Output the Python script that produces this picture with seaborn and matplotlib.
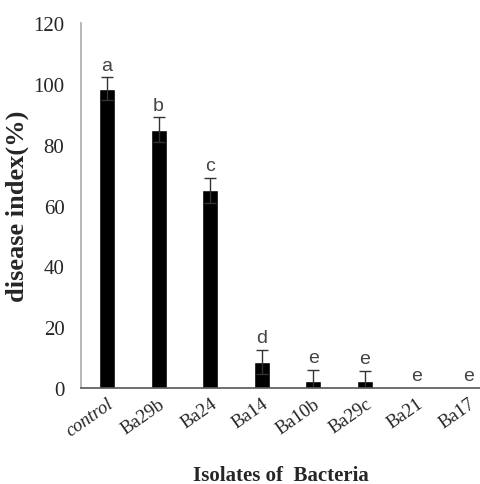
import matplotlib
matplotlib.use("Agg")
import matplotlib.pyplot as plt
import seaborn as sns
import pandas as pd
import numpy as np

categories = ["control", "Ba29b", "Ba24", "Ba14", "Ba10b", "Ba29c", "Ba21", "Ba17"]
values = [98.5, 85, 65, 8.5, 2.3, 2.3, 0, 0]
errors = [3.7, 4.0, 4.2, 4.0, 3.7, 3.3, 0, 0]
letters = ["a", "b", "c", "d", "e", "e", "e", "e"]
yticks = [0, 20, 40, 60, 80, 100, 120]

sns.set_theme(style="white")
plt.rcParams["font.family"] = ["Liberation Serif", "DejaVu Serif"]

df = pd.DataFrame({"isolate": categories, "value": values})

fig = plt.figure(figsize=(4.8, 4.85), dpi=100)
ax = fig.add_axes([0.169, 0.198, 0.831, 0.752])
sns.barplot(data=df, x="isolate", y="value", color="black", width=0.31,
            saturation=1, errorbar=None, ax=ax, order=categories)
xs = np.arange(len(categories))
for x, v, e, l in zip(xs, values, errors, letters):
    if e > 0:
        ax.errorbar(x, v, yerr=e, fmt="none", ecolor="#333333", elinewidth=1.0,
                    capsize=4, capthick=1.0)
    ax.text(x, v + e + 1.2, l, ha="center", va="bottom", fontsize=14,
            color="#444444", family=["Liberation Sans Narrow", "Liberation Sans", "DejaVu Sans"])

ax.set_ylim(0, 120)
ax.set_xlim(-0.5, 7.23)
ax.set_yticks(yticks)
ax.set_yticklabels([str(t) for t in yticks], fontsize=15)
ax.tick_params(axis="y", length=0, pad=12)
ax.tick_params(axis="x", length=0, pad=5)
ax.set_xticks(xs)
ax.set_xticklabels(categories, rotation=35, ha="right", rotation_mode="anchor", fontsize=13.5)
for lab in ax.get_xticklabels():
    if lab.get_text() == "control":
        lab.set_style("italic")
for sp in ["top", "right"]:
    ax.spines[sp].set_visible(False)
ax.spines["left"].set_color("#aaaaaa")
ax.spines["left"].set_linewidth(1.2)
ax.spines["bottom"].set_color("#555555")
ax.spines["bottom"].set_linewidth(1.2)
ax.set_ylabel("disease index(%)", fontsize=19, fontweight="bold", labelpad=3)
ax.set_xlabel("Isolates of  Bacteria", fontsize=15, fontweight="bold", labelpad=18)
ax.grid(False)

fig.savefig("out.png", dpi=100, facecolor="white")
